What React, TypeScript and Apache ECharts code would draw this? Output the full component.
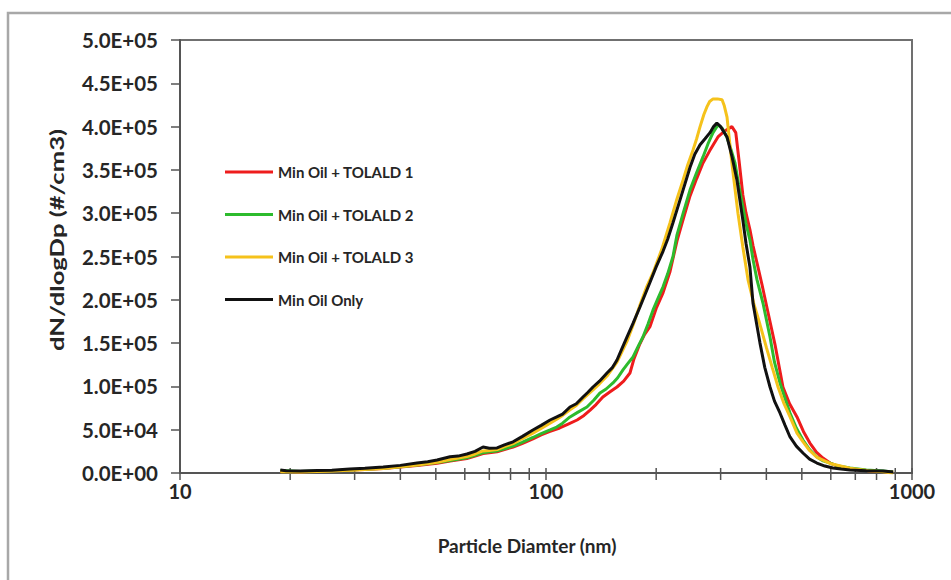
import React, { useEffect, useRef } from "react";
import * as echarts from "echarts";

// Particle size distributions: [diameter (nm), dN/dlogDp (#/cm3)]
const tolald1: [number, number][] = [
  [18.8, 2000], [21.3, 1500], [23.7, 2000], [26, 2500], [29.1, 3400], [32, 4100], [35.9, 5200], [40, 6800],
  [44.4, 8600], [50.4, 11300], [54.7, 13800], [60.8, 16800], [64, 19500], [67.3, 22500], [70, 23500], [73.5, 24500],
  [77, 27000], [81.3, 30000], [86, 34000], [92.1, 39500], [97, 44000], [102.6, 48000], [109, 52000], [115, 56500],
  [121.6, 61200], [127, 66500], [132, 72700], [137, 79000], [143, 87800], [150, 94000], [156.3, 99300], [163, 106000],
  [169.6, 115500], [174, 132000], [180, 148000], [186, 160000], [192.3, 169000], [200, 190000], [208.8, 208000],
  [218, 232000], [228, 268000], [237, 293000], [247.5, 320000], [258, 340000], [268.5, 358000], [280, 372000],
  [295, 388000], [308, 395000], [322, 400000], [330, 393000], [337, 360000], [345, 321000], [352, 300000],
  [360.7, 281000], [368, 262000], [377, 243000], [389, 218000], [402, 190000], [422.5, 148000], [444, 99300],
  [463, 80000], [485, 64700], [505, 48000], [526, 34600], [548, 24000], [571, 17300], [600, 11000], [635, 6900],
  [680, 4500], [721, 3500], [800, 2000], [888, 1200],
];

const tolald2: [number, number][] = [
  [18.8, 2800], [21.3, 1800], [23.7, 2200], [26, 2700], [29.1, 3600], [32, 4400], [35.9, 5600], [40, 7200],
  [44.4, 9200], [50.4, 12000], [54.7, 14500], [60.8, 17500], [64, 20500], [67.3, 23500], [70, 24500], [73.5, 25500],
  [77, 28000], [81.3, 31000], [86, 35500], [92.1, 41000], [97, 45500], [102.6, 49700], [107, 53100], [111, 57500],
  [116.3, 64700], [122, 70000], [129.4, 76200], [135, 84000], [140.4, 92400], [146, 97000], [152.4, 104000],
  [157, 110000], [162.3, 119000], [167, 126000], [172.9, 134000], [178, 145000], [184, 157000], [190, 172000],
  [196, 188000], [202, 201000], [208.8, 215000], [215, 230000], [222.3, 250000], [228, 275000], [237, 300000],
  [247.5, 327000], [258, 347000], [268.5, 365000], [277, 380000], [286, 393000], [295, 402000], [303, 398000],
  [312, 388000], [320, 374000], [328.4, 358000], [336, 333000], [345, 307000], [352, 288000], [360.7, 269000],
  [368, 246000], [377.2, 223000], [391.7, 196000], [409.3, 157000], [421, 128000], [435.8, 104000], [450, 86000],
  [464.2, 69300], [483, 52000], [503.6, 38100], [525, 27000], [549.7, 18500], [572, 14000], [597, 11500],
  [630, 8000], [677, 5800], [750, 3500], [833, 2300], [888, 1200],
];

const tolald3: [number, number][] = [
  [18.8, 1500], [21.3, 1200], [23.7, 1800], [26, 2200], [29.1, 3200], [32, 4000], [35.9, 5300], [40, 7200],
  [44.4, 9300], [50.4, 12300], [54.7, 15500], [60.8, 19000], [64, 22000], [67.3, 25500], [70, 26000], [73.5, 27000],
  [77, 30500], [81.3, 34000], [86, 39500], [92.1, 46000], [97, 51500], [102.6, 57500], [107, 62000], [111, 66500],
  [116.3, 73000], [121, 78000], [126.2, 85500], [134.4, 96000], [140, 103000], [146.8, 112000], [156.3, 128000],
  [166.4, 152000], [173, 171000], [180.6, 194000], [188, 214000], [196, 231000], [207, 258000], [218.2, 289000],
  [227, 314000], [236.8, 338000], [244, 356000], [252.2, 373000], [258, 386000], [263.6, 400000], [270, 414000],
  [275.4, 423000], [280, 429000], [286, 432000], [294, 432000], [302.7, 431000], [307, 424000], [312.3, 411000],
  [317, 385000], [322, 358000], [328, 330000], [334.6, 300000], [345, 261000], [356.5, 223000], [370, 195000],
  [384, 172000], [400, 145000], [415, 122000], [430, 100000], [447, 80000], [464, 65000], [485, 46000],
  [504, 36000], [525, 26000], [550, 18000], [597, 11000], [677, 5500], [760, 2500], [833, 1500], [888, 0],
];

const minOilOnly: [number, number][] = [
  [18.8, 3500], [19.5, 2500], [21.3, 2300], [23.7, 2900], [26, 3300], [29.1, 4600], [32, 5500], [35.9, 6900],
  [40, 8800], [44.4, 11500], [47.5, 13000], [50.4, 15000], [54.7, 18800], [57.5, 19500], [60.8, 21900], [64, 25000],
  [67.3, 30000], [70, 28500], [73.5, 28900], [77, 32500], [81.3, 36000], [86, 42000], [92.1, 49700], [97, 55000],
  [102.6, 61200], [107, 64700], [111, 68000], [116.3, 76200], [121, 80000], [126.2, 87800], [130, 93000],
  [134.4, 99300], [140, 106000], [146.8, 115500], [152, 122000], [156.3, 130500], [161, 143000], [166.4, 157000],
  [173, 173000], [180.6, 191700], [186, 205000], [192.3, 220000], [200, 238000], [208.8, 256000], [215, 270000],
  [222.3, 289000], [235, 322000], [247.5, 353000], [255, 368000], [263.6, 379000], [272, 386000], [280.6, 393000],
  [287, 400000], [293, 404000], [300, 400000], [312.3, 388000], [322, 366000], [332.5, 338000], [345, 292000],
  [352, 265000], [360.7, 238000], [367.8, 196000], [384.3, 150000], [396, 122000], [409.3, 99300], [421, 83000],
  [435.8, 69300], [450, 55000], [464.2, 41600], [483, 31000], [503.6, 23100], [525, 16000], [549.7, 11500],
  [578, 8000], [608, 5800], [640, 4500], [677, 3500], [750, 2700], [833, 2300], [888, 1200],
];

const seriesNames = ["Min Oil + TOLALD 1", "Min Oil + TOLALD 2", "Min Oil + TOLALD 3", "Min Oil Only"];
const seriesColors = ["#ee1c1c", "#2dbb2d", "#f5c21b", "#111111"];
const xTicks = [10, 20, 30, 40, 50, 60, 70, 80, 90, 100, 200, 300, 400, 500, 600, 700, 800, 900, 1000];

const FONT = "Lato, 'DejaVu Sans', sans-serif";

function sci(v: number): string {
  if (v === 0) return "0.0E+00";
  const e = Math.floor(Math.log10(v) + 1e-9);
  const m = v / Math.pow(10, e);
  return m.toFixed(1) + "E+" + String(e).padStart(2, "0");
}

export default function App() {
  const ref = useRef<HTMLDivElement>(null);
  useEffect(() => {
    if (!ref.current) return;
    const chart = echarts.init(ref.current, null, { renderer: "svg" });
    const allData = [tolald1, tolald2, tolald3, minOilOnly];
    const lineSeries = allData.map((d, i) => ({
      name: seriesNames[i],
      type: "line",
      data: d,
      showSymbol: false,
      symbol: "none",
      smooth: false,
      lineStyle: { color: seriesColors[i], width: 3 },
      itemStyle: { color: seriesColors[i] },
      z: 3 + i,
    }));
    chart.setOption({
      animation: false,
      backgroundColor: "#ffffff",
      grid: {
        left: 180,
        right: 39,
        top: 40,
        bottom: 107,
        show: true,
        borderColor: "#707070",
        borderWidth: 2,
        backgroundColor: "#ffffff",
      },
      legend: {
        orient: "vertical",
        left: 225,
        top: 162,
        padding: 0,
        icon: "rect",
        itemWidth: 48,
        itemHeight: 3,
        itemGap: 22.5,
        data: seriesNames,
        textStyle: { fontFamily: FONT, fontSize: 15, fontWeight: "bold", color: "#262626", lineHeight: 20 },
      },
      xAxis: {
        type: "log",
        logBase: 10,
        min: 10,
        max: 1000,
        axisLine: { show: true, lineStyle: { color: "#555555", width: 2 } },
        axisTick: { show: false },
        splitLine: { show: false },
        axisLabel: {
          margin: 8,
          fontFamily: FONT,
          fontSize: 20,
          fontWeight: "bold",
          color: "#262626",
          formatter: (v: number) => String(Math.round(v)),
        },
      },
      yAxis: {
        type: "value",
        min: 0,
        max: 500000,
        interval: 50000,
        axisLine: { show: true, lineStyle: { color: "#555555", width: 2 } },
        axisTick: { show: true, inside: false, length: 9, lineStyle: { color: "#555555", width: 1.5 } },
        splitLine: { show: false },
        axisLabel: {
          margin: 22,
          fontFamily: FONT,
          fontSize: 20.5,
          fontWeight: "bold",
          color: "#262626",
          formatter: (v: number) => sci(v),
        },
      },
      graphic: [
        {
          type: "rect",
          shape: { x: 8, y: 13, width: 1200, height: 1200 },
          style: { fill: "none", stroke: "#a8a8a8", lineWidth: 2.5 },
          silent: true,
          z: -10,
        },
        {
          type: "text",
          x: 527,
          y: 545,
          style: {
            text: "Particle Diamter (nm)",
            fontFamily: FONT,
            fontSize: 19,
            fontWeight: "bold",
            fill: "#262626",
            align: "center",
            verticalAlign: "middle",
          },
        },
        {
          type: "text",
          x: 57,
          y: 240,
          rotation: Math.PI / 2,
          scaleX: 1.35,
          style: {
            text: "dN/dlogDp (#/cm3)",
            fontFamily: FONT,
            fontSize: 19,
            fontWeight: "bold",
            fill: "#262626",
            align: "center",
            verticalAlign: "middle",
          },
        },
      ],
      series: [
        {
          type: "custom",
          name: "ticks",
          silent: true,
          clip: false,
          z: 2,
          data: xTicks.map((t) => [t, 0]),
          renderItem: (_params: any, api: any) => {
            const p = api.coord([api.value(0), 0]);
            return {
              type: "line",
              shape: { x1: p[0], y1: p[1] - 5, x2: p[0], y2: p[1] + 7 },
              style: { stroke: "#555555", lineWidth: 1.5 },
            };
          },
        },
        ...lineSeries,
      ],
    });
    return () => chart.dispose();
  }, []);
  return (
    <div
      ref={ref}
      style={{ position: "absolute", left: 0, top: 0, width: 951, height: 580, background: "#fff" }}
    />
  );
}
